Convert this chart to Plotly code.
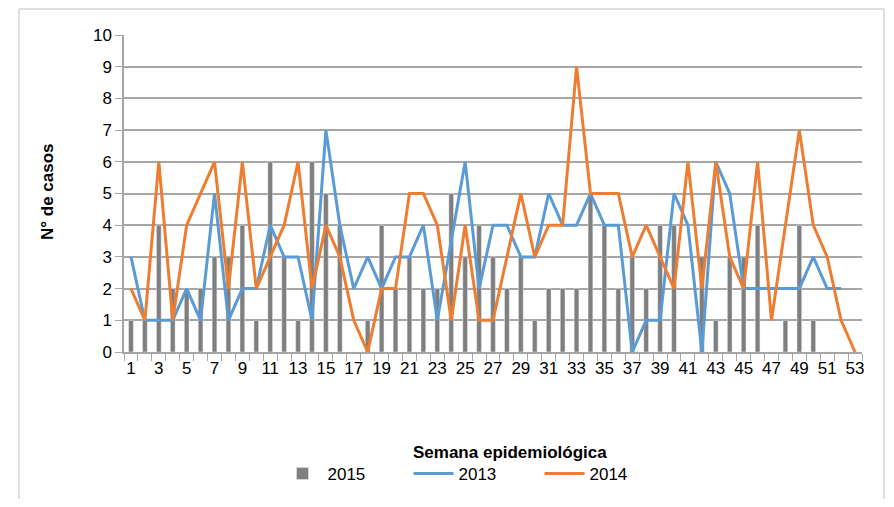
import plotly.graph_objects as go

weeks = list(range(1, 54))
casos_2015 = [1, 1, 4, 2, 2, 2, 3, 3, 4, 1, 6, 3, 1, 6, 5, 4, 0, 1, 4, 2,
              3, 2, 2, 5, 3, 4, 3, 2, 3, 1, 2, 2, 2, 5, 4, 2, 3, 2, 4, 4,
              0, 3, 1, 3, 3, 4, 0, 1, 4, 1, 0, 0, 0]
casos_2013 = [3, 1, 1, 1, 2, 1, 5, 1, 2, 2, 4, 3, 3, 1, 7, 4, 2, 3, 2, 3,
              3, 4, 1, None, 6, 2, 4, 4, 3, 3, 5, 4, 4, 5, 4, 4, 0, 1, 1, 5,
              4, 0, 6, 5, 2, 2, 2, 2, 2, 3, 2, 2, None]
casos_2014 = [2, 1, 6, 1, 4, 5, 6, 2, 6, 2, 3, 4, 6, 2, 4, 3, 1, 0, 2, 2,
              5, 5, 4, 1, 4, 1, 1, 3, 5, 3, 4, 4, 9, 5, 5, 5, 3, 4, 3, 2,
              6, 2, 6, 3, 2, 6, 1, 4, 7, 4, 3, 1, 0]
x_tick_labels = [str(w) for w in weeks if w % 2 == 1]
y_ticks = list(range(0, 11))

FONT = "Liberation Sans Narrow, Arial Narrow, Liberation Sans, Arial, sans-serif"

fig = go.Figure()
fig.add_trace(go.Bar(x=weeks, y=casos_2015, name="2015", marker_color="#7f7f7f",
                     width=0.34))
fig.add_trace(go.Scatter(x=weeks, y=casos_2013, name="2013", mode="lines",
                         line=dict(color="#5b9bd5", width=3), connectgaps=True))
fig.add_trace(go.Scatter(x=weeks, y=casos_2014, name="2014", mode="lines",
                         line=dict(color="#ed7d31", width=3)))

# page body has an 8px margin; work in screen pixels and offset
OFF = 8
W, H = 894 - 2 * OFF, 507 - 2 * OFF
L, T = 124 - OFF, 35 - OFF
R = W - (862 - OFF)
B = H - (352 - OFF)
pw, ph = W - L - R, H - T - B

def px2paper(x, y):
    # x, y in screen pixels
    return (x - OFF - L) / pw, (H - B - (y - OFF)) / ph

fig.update_layout(
    width=W, height=H,
    margin=dict(l=L, r=R, t=T, b=B, autoexpand=False),
    paper_bgcolor="white", plot_bgcolor="white",
    font=dict(family=FONT, size=17, color="#000000"),
    showlegend=True,
    legend=dict(orientation="h", x=px2paper(474, 0)[0], xanchor="center",
                y=px2paper(0, 474)[1], yanchor="middle",
                font=dict(family=FONT, size=17), itemwidth=40,
                entrywidth=76, entrywidthmode="pixels",
                tracegroupgap=0, bgcolor="rgba(0,0,0,0)"),
    bargap=0.6,
)

fig.update_xaxes(
    range=[0.5, 53.5], tickmode="array", automargin=False,
    tickvals=[w for w in weeks if w % 2 == 1], ticktext=x_tick_labels,
    ticks="", showgrid=False, showline=True, linecolor="#a6a6a6", linewidth=1.5,
    tickfont=dict(family=FONT, size=17), zeroline=False,
    minor=dict(tick0=0.5, dtick=1, ticks="outside", ticklen=7,
               tickcolor="#a6a6a6", tickwidth=1.2, showgrid=False),
)
fig.update_yaxes(
    range=[0, 10], tickmode="array", tickvals=y_ticks, automargin=False,
    ticks="outside", ticklen=7, tickcolor="#a6a6a6", tickwidth=1.2,
    showgrid=True, gridcolor="#a6a6a6", gridwidth=1.5,
    showline=True, linecolor="#a6a6a6", linewidth=1.5, zeroline=False,
    tickfont=dict(family=FONT, size=17),
)

ax_x, ax_y = px2paper(47, 192)
fig.add_annotation(text="<b>N° de casos</b>", xref="paper", yref="paper",
                   x=ax_x, y=ax_y, xanchor="center", yanchor="middle",
                   showarrow=False, textangle=-90,
                   font=dict(family=FONT, size=17))
tx, ty = px2paper(510, 452)
fig.add_annotation(text="<b>Semana epidemiológica</b>", xref="paper", yref="paper",
                   x=tx, y=ty, xanchor="center", yanchor="middle",
                   showarrow=False, font=dict(family=FONT, size=17))

# outer chart frame (left, top, right edges)
bx0, by0 = px2paper(19, 499)
bx1, by1 = px2paper(884, 9)
for (x0, y0, x1, y1) in [(bx0, by0, bx0, by1), (bx0, by1, bx1, by1), (bx1, by1, bx1, by0)]:
    fig.add_shape(type="line", xref="paper", yref="paper", x0=x0, y0=y0, x1=x1, y1=y1,
                  line=dict(color="#bfbfbf", width=1), layer="below")

fig.write_html("out.html")
